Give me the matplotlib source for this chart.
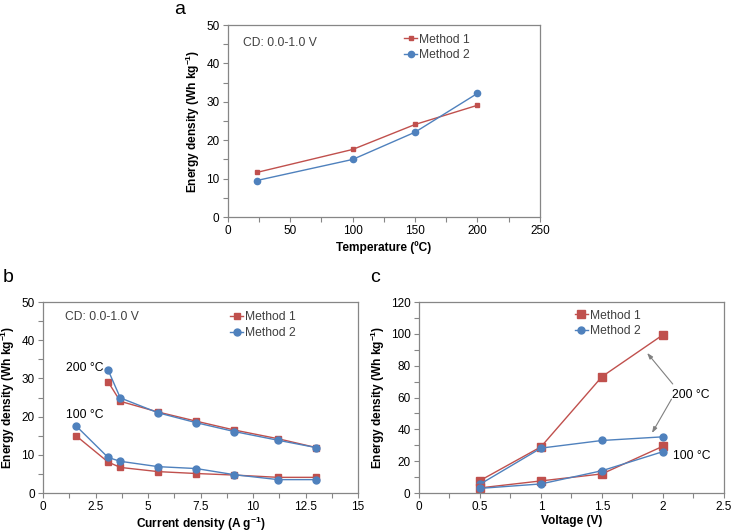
import matplotlib
matplotlib.use('Agg')
import matplotlib.pyplot as plt
from matplotlib.ticker import MultipleLocator, FuncFormatter

plt.rcParams['font.family'] = ['Liberation Sans', 'DejaVu Sans']
plt.rcParams['mathtext.fontset'] = 'custom'
plt.rcParams['mathtext.rm'] = 'Liberation Sans'
plt.rcParams['mathtext.bf'] = 'Liberation Sans:bold'

RED = '#c0504d'
BLUE = '#4f81bd'
GRAY = '#868686'
TXT = '#404040'

# panel a: energy density vs temperature
temp = [23, 100, 150, 200]
a_m1 = [11.6, 17.6, 24.1, 29.1]
a_m2 = [9.5, 15.0, 22.1, 32.2]

# panel b: energy density vs current density
cd_200 = [3.1, 3.68, 5.48, 7.3, 9.1, 11.2, 13.0]
b200_m1 = [29.1, 24.0, 21.2, 18.8, 16.5, 14.2, 11.9]
b200_m2 = [32.2, 24.9, 21.0, 18.4, 16.1, 13.8, 11.9]
cd_100 = [1.57, 3.1, 3.68, 5.48, 7.3, 9.1, 11.2, 13.0]
b100_m1 = [15.0, 8.1, 6.7, 5.6, 5.1, 4.7, 4.1, 4.1]
b100_m2 = [17.6, 9.3, 8.3, 6.9, 6.4, 4.8, 3.5, 3.5]

# panel c: energy density vs voltage
volt = [0.5, 1.0, 1.5, 2.0]
c200_m1 = [7.8, 29.0, 73.1, 99.4]
c200_m2 = [5.5, 28.2, 33.0, 35.3]
c100_m1 = [3.2, 7.6, 12.0, 29.4]
c100_m2 = [2.9, 5.7, 14.0, 26.0]

ylab = r'Energy density (Wh kg$^{\mathbf{-1}}$)'

fig = plt.figure(figsize=(7.35, 5.32), dpi=100)
axa = fig.add_axes([0.310, 0.592, 0.4245, 0.361])
axb = fig.add_axes([0.0585, 0.0733, 0.4286, 0.359])
axc = fig.add_axes([0.570, 0.0733, 0.415, 0.359])


def fmt(v, pos):
    return ('%g' % v)


def style(ax, xmaj, ymaj):
    for s in ax.spines.values():
        s.set_color(GRAY)
        s.set_linewidth(0.9)
    ax.xaxis.set_major_locator(MultipleLocator(xmaj))
    ax.xaxis.set_minor_locator(MultipleLocator(xmaj / 2))
    ax.yaxis.set_major_locator(MultipleLocator(ymaj))
    ax.yaxis.set_minor_locator(MultipleLocator(ymaj / 2))
    ax.xaxis.set_major_formatter(FuncFormatter(fmt))
    ax.tick_params(which='both', direction='out', length=3.5, width=0.8,
                   color=GRAY, labelsize=8.5, pad=2.5)
    ax.tick_params(top=False, right=False)
    ax.set_ylabel(ylab, fontsize=8.6, fontweight='bold', labelpad=3)


def leg(ax, x, y):
    l = ax.legend(loc='upper left', bbox_to_anchor=(x, y), frameon=False,
                  fontsize=8.7, handlelength=1.1, handletextpad=0.15,
                  borderpad=0, borderaxespad=0, labelspacing=0.3)
    for t in l.get_texts():
        t.set_color(TXT)


# a
axa.plot(temp, a_m1, color=RED, lw=1, marker='s', ms=3.5, label='Method 1')
axa.plot(temp, a_m2, color=BLUE, lw=1, marker='o', ms=4.5, label='Method 2')
axa.set_xlim(0, 250)
axa.set_ylim(0, 50)
style(axa, 50, 10)
axa.set_xlabel('Temperature (ºC)', fontsize=8.6, fontweight='bold', labelpad=3)
axa.text(12, 45.3, 'CD: 0.0-1.0 V', fontsize=8.7, color=TXT, va='center')
leg(axa, 0.565, 0.955)
fig.text(180 / 735, 1 - 10 / 532, 'a', fontsize=14, ha='center', va='center')

# b
axb.plot(cd_200, b200_m1, color=RED, lw=1, marker='s', ms=5, label='Method 1')
axb.plot(cd_200, b200_m2, color=BLUE, lw=1, marker='o', ms=5, label='Method 2')
axb.plot(cd_100, b100_m1, color=RED, lw=1, marker='s', ms=5)
axb.plot(cd_100, b100_m2, color=BLUE, lw=1, marker='o', ms=5)
axb.set_xlim(0, 15)
axb.set_ylim(0, 50)
style(axb, 2.5, 10)
axb.set_xlabel('Current density (A g$^{\\mathbf{-1}}$)', fontsize=8.6,
               fontweight='bold', labelpad=1)
axb.text(1.05, 46, 'CD: 0.0-1.0 V', fontsize=8.7, color=TXT, va='center')
axb.text(2.9, 32.8, '200 °C', fontsize=8.7, color='black', va='center', ha='right')
axb.text(2.9, 20.4, '100 °C', fontsize=8.7, color='black', va='center', ha='right')
leg(axb, 0.594, 0.952)
fig.text(8 / 735, 1 - 278 / 532, 'b', fontsize=14, ha='center', va='center')

# c
axc.plot(volt, c200_m1, color=RED, lw=1, marker='s', ms=5.5, label='Method 1')
axc.plot(volt, c200_m2, color=BLUE, lw=1, marker='o', ms=5, label='Method 2')
axc.plot(volt, c100_m1, color=RED, lw=1, marker='s', ms=5.5)
axc.plot(volt, c100_m2, color=BLUE, lw=1, marker='o', ms=5)
axc.set_xlim(0, 2.5)
axc.set_ylim(0, 120)
style(axc, 0.5, 20)
axc.set_xlabel('Voltage (V)', fontsize=8.6, fontweight='bold', labelpad=1)
axc.text(2.07, 61.6, '200 °C', fontsize=8.7, color='black', va='center')
axc.text(2.08, 23.3, '100 °C', fontsize=8.7, color='black', va='center')
arw = dict(arrowstyle='-|>,head_length=0.35,head_width=0.12', color='#808080',
           lw=0.8, shrinkA=0, shrinkB=0)
axc.annotate('', xy=(1.87, 88), xytext=(2.08, 68.5), arrowprops=arw)
axc.annotate('', xy=(1.91, 37.7), xytext=(2.07, 59), arrowprops=arw)
leg(axc, 0.511, 0.96)
fig.text(375 / 735, 1 - 278 / 532, 'c', fontsize=14, ha='center', va='center')

fig.savefig('out.png', dpi=100)
